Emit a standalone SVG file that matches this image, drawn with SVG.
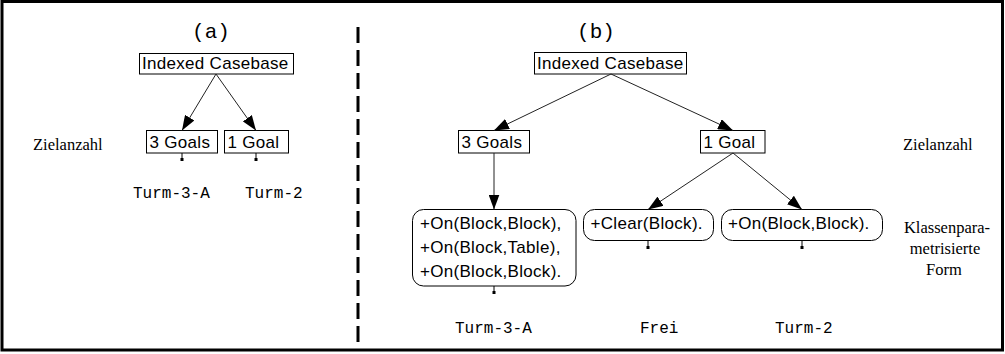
<svg xmlns="http://www.w3.org/2000/svg" width="1005" height="354" viewBox="0 0 1005 354">
  <style>
    .frame { fill: none; stroke: #000; stroke-width: 3; }
    .divider { stroke: #000; stroke-width: 3; stroke-dasharray: 16 7; }
    .box { fill: #fff; stroke: #000; stroke-width: 1; }
    .lbl { font-family: "Liberation Sans", Arial, sans-serif; font-size: 17px; letter-spacing: 0.3px; fill: #000; }
    .mono { font-family: "Liberation Mono", "Courier New", monospace; font-size: 16px; fill: #000; }
    .title { font-family: "Liberation Mono", "Courier New", monospace; font-size: 21px; fill: #000; text-anchor: middle; }
    .side { font-family: "Liberation Serif", "Times New Roman", serif; font-size: 16.5px; fill: #000; }
    .edge { fill: none; stroke: #222; stroke-width: 1; marker-end: url(#arrow); }
    .stub { stroke: #000; stroke-width: 1; }
    .dot { fill: #000; }
  </style>
  <defs>
    <!-- filled triangular arrowhead, tip on the line end -->
    <marker id="arrow" viewBox="0 0 15 11" refX="15" refY="5.5" markerWidth="15" markerHeight="11" markerUnits="userSpaceOnUse" orient="auto">
      <path d="M0,0 L15,5.5 L0,11 z" fill="#000"/>
    </marker>
  </defs>

  <rect width="1005" height="354" fill="#fff"/>
  <rect class="frame" x="2" y="1.5" width="1000.5" height="348.5"/>
  <line class="divider" x1="358" y1="27" x2="358" y2="342"/>

  <!-- panel (a) -->
  <text class="title" x="211" y="38">(a)</text>
  <text class="side" x="33" y="150">Zielanzahl</text>

  <g id="a-root">
    <rect class="box" x="139.5" y="53.5" width="154" height="20.5"/>
    <text class="lbl" x="142" y="69">Indexed Casebase</text>
  </g>
  <g id="a-goals3">
    <rect class="box" x="146.5" y="130.5" width="71" height="22.5"/>
    <text class="lbl" x="149.5" y="147.5">3 Goals</text>
    <line class="stub" x1="182" y1="153" x2="182" y2="159"/>
    <rect class="dot" x="180.5" y="158" width="3" height="3"/>
    <text class="mono" x="133" y="198">Turm-3-A</text>
  </g>
  <g id="a-goal1">
    <rect class="box" x="224.5" y="130.5" width="64" height="22.5"/>
    <text class="lbl" x="227.5" y="147.5">1 Goal</text>
    <line class="stub" x1="256" y1="153" x2="256" y2="159"/>
    <rect class="dot" x="254.5" y="158" width="3" height="3"/>
    <text class="mono" x="245" y="198">Turm-2</text>
  </g>

  <!-- panel (b) -->
  <text class="title" x="596" y="38">(b)</text>
  <text class="side" x="903" y="150">Zielanzahl</text>
  <text class="side" text-anchor="middle" x="947" y="233">Klassenpara-</text>
  <text class="side" text-anchor="middle" x="945" y="254">metrisierte</text>
  <text class="side" text-anchor="middle" x="944" y="275">Form</text>

  <g id="b-root">
    <rect class="box" x="534.5" y="52.5" width="152" height="21.5"/>
    <text class="lbl" x="537" y="68.5">Indexed Casebase</text>
  </g>
  <g id="b-goals3">
    <rect class="box" x="458.5" y="130.5" width="71" height="22.5"/>
    <text class="lbl" x="461.5" y="147.5">3 Goals</text>
  </g>
  <g id="b-goal1">
    <rect class="box" x="700.5" y="130.5" width="64.5" height="22.5"/>
    <text class="lbl" x="703.5" y="147.5">1 Goal</text>
  </g>
  <g id="b-form3">
    <rect class="box" x="412.5" y="209.5" width="163.5" height="76.5" rx="11"/>
    <text class="lbl" x="420" y="229">+On(Block,Block),</text>
    <text class="lbl" x="420" y="253">+On(Block,Table),</text>
    <text class="lbl" x="420" y="277">+On(Block,Block).</text>
    <line class="stub" x1="494" y1="286" x2="494" y2="292"/>
    <rect class="dot" x="492.5" y="291" width="3" height="3"/>
    <text class="mono" x="455" y="333">Turm-3-A</text>
  </g>
  <g id="b-clear">
    <rect class="box" x="583.5" y="209.5" width="130" height="31" rx="11"/>
    <text class="lbl" x="590.5" y="229">+Clear(Block).</text>
    <line class="stub" x1="648" y1="241" x2="648" y2="247"/>
    <rect class="dot" x="646.5" y="246" width="3" height="3"/>
    <text class="mono" x="640" y="333">Frei</text>
  </g>
  <g id="b-form1">
    <rect class="box" x="721.5" y="209.5" width="161" height="31" rx="11"/>
    <text class="lbl" x="728" y="229">+On(Block,Block).</text>
    <line class="stub" x1="802" y1="241" x2="802" y2="247"/>
    <rect class="dot" x="800.5" y="246" width="3" height="3"/>
    <text class="mono" x="775" y="333">Turm-2</text>
  </g>

  <g id="connectors">
    <line class="edge" x1="216" y1="74" x2="182" y2="130.5"/>
    <line class="edge" x1="216" y1="74" x2="256" y2="130.5"/>
    <line class="edge" x1="611" y1="74" x2="494" y2="130.5"/>
    <line class="edge" x1="611" y1="74" x2="733" y2="130.5"/>
    <line class="edge" x1="494" y1="153" x2="494" y2="209.5"/>
    <line class="edge" x1="733" y1="153" x2="648" y2="209.5"/>
    <line class="edge" x1="733" y1="153" x2="802" y2="209.5"/>
  </g>
</svg>
